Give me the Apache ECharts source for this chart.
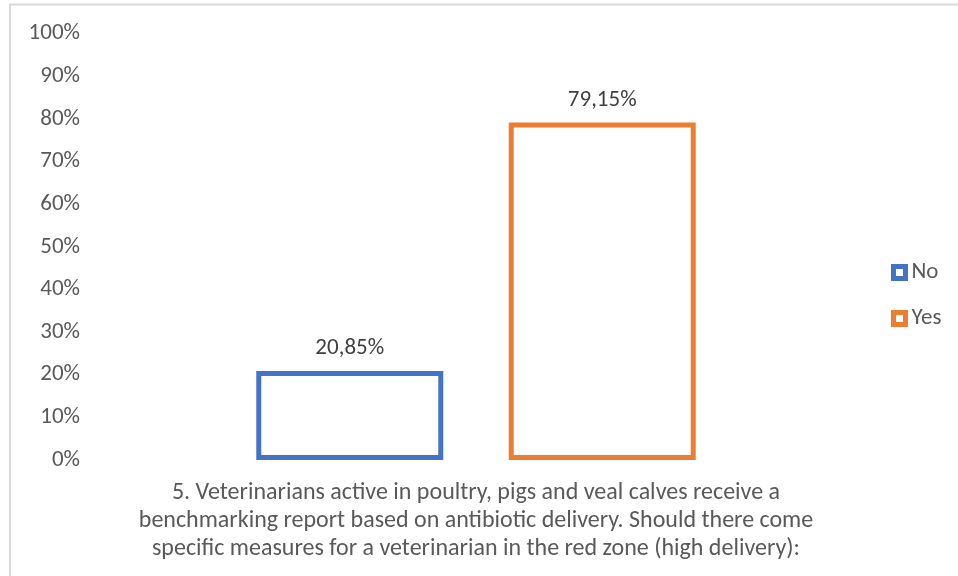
<!DOCTYPE html>
<html>
<head>
<meta charset="utf-8">
<script src="https://cdn.jsdelivr.net/npm/echarts@6/dist/echarts.min.js"></script>
<style>
    html, body {
        margin: 0;
        padding: 0;
        background: #ffffff;
    }
    #chart {
        width: 958px;
        height: 576px;
    }
</style>
</head>
<body>
<div id="chart"></div>
<script>
// data
const categories = [
    "5. Veterinarians active in poultry, pigs and veal calves receive a\nbenchmarking report based on antibiotic delivery. Should there come\nspecific measures for a veterinarian in the red zone (high delivery):"
];
const seriesNames = ["No", "Yes"];
const noValues = [20.85];
const yesValues = [79.15];
const seriesColors = ["#4472c4", "#ed7d31"];

const font = "Calibri, Carlito, 'Open Sans', 'Noto Sans', sans-serif";

const makeSeries = (name, data, color) => ({
    name: name,
    type: "bar",
    data: data,
    barWidth: 187,
    barGap: "35%",
    itemStyle: {
        color: "#ffffff",
        borderColor: color,
        borderWidth: 5,
    },
    label: {
        show: true,
        position: "top",
        distance: 11,
        color: "#404040",
        fontSize: 23,
        fontFamily: font,
        formatter: (p) => p.value.toFixed(2).replace(".", ",") + "%",
    },
});

const chart = echarts.init(document.getElementById("chart"));
chart.setOption({
    animation: false,
    graphic: [
        {
            type: "rect",
            shape: { x: 10, y: 4.5, width: 960, height: 600 },
            style: { fill: "none", stroke: "#d9d9d9", lineWidth: 2 },
            silent: true,
        },
    ],
    grid: {
        left: 90,
        right: 96,
        top: 33.5,
        bottom: 116,
    },
    legend: {
        orient: "vertical",
        left: 886,
        top: 256,
        itemWidth: 12,
        itemHeight: 12,
        itemGap: 23,
        icon: "rect",
        data: seriesNames,
        itemStyle: {
            borderWidth: 5,
        },
        textStyle: {
            color: "#595959",
            fontSize: 23,
            fontFamily: font,
            padding: [0, 0, 0, 1],
        },
    },
    xAxis: {
        type: "category",
        data: categories,
        axisLine: { show: false },
        axisTick: { show: false },
        axisLabel: {
            color: "#595959",
            fontSize: 24,
            fontFamily: font,
            lineHeight: 28,
            margin: 19,
        },
    },
    yAxis: {
        type: "value",
        min: 0,
        max: 100,
        interval: 10,
        splitLine: { show: false },
        axisLine: { show: false },
        axisTick: { show: false },
        axisLabel: {
            formatter: "{value}%",
            color: "#595959",
            fontSize: 23,
            fontFamily: font,
            margin: 10,
        },
    },
    series: [
        makeSeries(seriesNames[0], noValues, seriesColors[0]),
        makeSeries(seriesNames[1], yesValues, seriesColors[1]),
    ],
});
</script>
</body>
</html>
